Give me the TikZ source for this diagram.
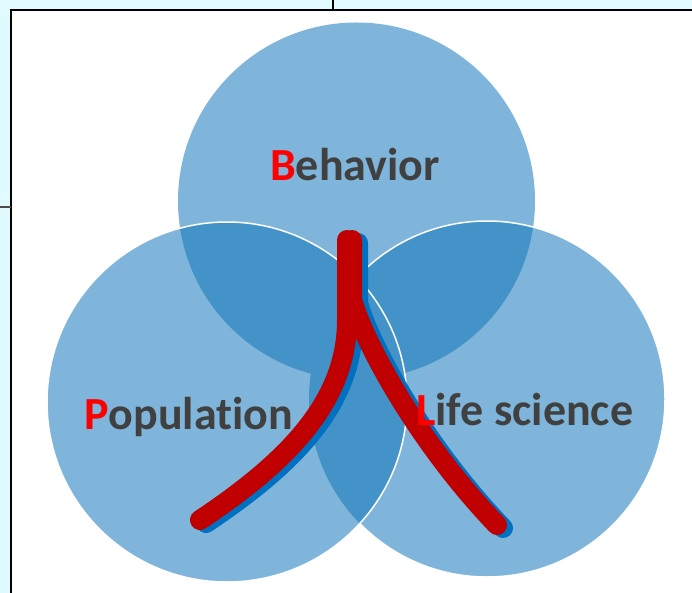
\documentclass[tikz,border=0pt]{standalone}
\usepackage{fontspec}
\setmainfont{Carlito}[Ligatures=NoCommon]
\definecolor{bgcyan}{HTML}{E0FAFE}
\definecolor{lightb}{HTML}{7FB5DB}
\definecolor{darkb}{HTML}{4493C8}
\definecolor{shadowb}{HTML}{0070C0}
\definecolor{curvered}{HTML}{C00000}
\definecolor{txtgrey}{HTML}{404040}
\definecolor{lettred}{HTML}{FF0000}
\tikzset{
  outline/.style={draw=white, line width=1.5pt},
  branchshadow/.style={draw=shadowb, line width=20pt, line cap=round},
  branch/.style={draw=curvered, line width=20pt, line cap=round},
  label/.style={anchor=base west, inner sep=0pt, text=txtgrey,
    font=\fontsize{46}{50}\selectfont\bfseries},
  frameline/.style={draw=black, line width=2pt},
}
\begin{document}
\begin{tikzpicture}[x=1pt, y=-1pt]
\useasboundingbox (0,0) rectangle (692,593);
% background and frame
\fill[bgcyan] (0,0) rectangle (692,593);
\fill[white] (10.5,10.5) rectangle (692,593);
\draw[frameline] (10.5,593) -- (10.5,10.5) -- (692,10.5);
\draw[frameline] (333,0) -- (333,10.5);
\draw[draw=black!70, line width=1.5pt] (0,207) -- (10.5,207);
% circle centres
\coordinate (cB) at (356.5,201);
\coordinate (cL) at (227,402);
\coordinate (cR) at (487,399);
% top circle
\fill[lightb] (cB) circle (178.5pt);
% right circle
\fill[lightb] (cR) circle (178pt);
\begin{scope}
  \clip (cB) circle (178.5pt);
  \fill[darkb] (cR) circle (178pt);
\end{scope}
\draw[outline] (cR) circle (178pt);
% left circle
\fill[lightb] (cL) circle (180pt);
\begin{scope}
  \clip (cL) circle (180pt);
  \fill[darkb] (cB) circle (178.5pt);
  \fill[darkb] (cR) circle (178pt);
\end{scope}
\draw[outline] (cL) circle (180pt);
% red branches with shadow
\coordinate (top1) at (347,240);
\coordinate (mid1) at (347,320);
\coordinate (end1) at (200,520);
\coordinate (top2) at (352,240);
\coordinate (mid2) at (352,300);
\coordinate (end2) at (497,525);
\coordinate (stop1) at (353,243);
\coordinate (smid1) at (353,323);
\coordinate (send1) at (206,523);
\coordinate (stop2) at (358,243);
\coordinate (smid2) at (358,303);
\coordinate (send2) at (503,528);
\draw[branchshadow] (stop1) -- (smid1) .. controls (353,403) and (296,463) .. (send1);
\draw[branchshadow] (stop2) -- (smid2) .. controls (371,348) and (426,448) .. (send2);
\draw[branch] (top1) -- (mid1) .. controls (347,400) and (290,460) .. (end1);
\draw[branch] (top2) -- (mid2) .. controls (365,345) and (420,445) .. (end2);
% labels
\node[label] (tB) at (270,181) {\textcolor{lettred}{B}ehavior};
\node[label] (tP) at (84,429) {\textcolor{lettred}{P}opulation};
\node[label] (tL) at (416,425) {\textcolor{lettred}{L}ife science};
\end{tikzpicture}
\end{document}
